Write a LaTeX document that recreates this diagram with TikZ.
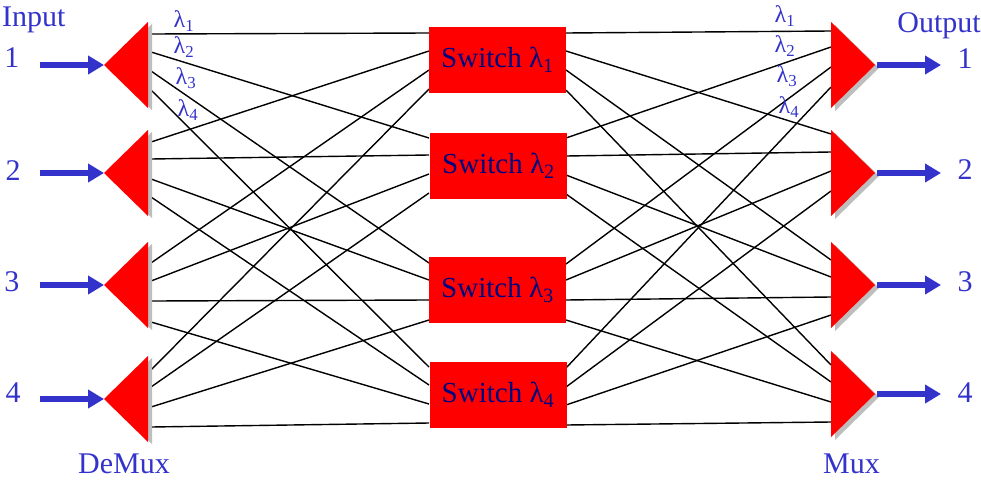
\documentclass[tikz,border=0pt]{standalone}
\usepackage{fontspec}
\setmainfont{Liberation Serif}
\usetikzlibrary{arrows.meta}
\definecolor{tblue}{HTML}{3333CC}
\definecolor{navytext}{HTML}{000080}
\definecolor{shadowgray}{HTML}{BEBEBE}
\begin{document}
\begin{tikzpicture}[x=1pt,y=-1pt,
  wire/.style={black,line width=1.4pt},
  bigarrow/.style={tblue,line width=6pt,-{Triangle[length=16pt,width=18pt]}},
  switchbox/.style={fill=red,minimum width=137pt,minimum height=66pt,inner sep=0pt,
     text=navytext,font=\fontsize{29}{34}\selectfont},
  biglabel/.style={text=tblue,inner sep=0pt,font=\fontsize{30}{36}\selectfont},
  lamlabel/.style={text=tblue,inner sep=0pt,font=\fontsize{24}{28}\selectfont}]
\useasboundingbox (0,0) rectangle (981,479);
\fill[white] (0,0) rectangle (981,479);

% demux ports
\foreach \i/\a/\b/\c/\d in {1/34/52/71/90,2/142/159/179/197,3/263/281/301/322,4/370/387/407/427}{
  \coordinate (d\i-1) at (151,\a);
  \coordinate (d\i-2) at (151,\b);
  \coordinate (d\i-3) at (151,\c);
  \coordinate (d\i-4) at (151,\d);
}
% mux ports
\foreach \i/\a/\b/\c/\d in {1/31/47/67/87,2/134/152/171/191,3/260/277/297/315,4/365/382/402/422}{
  \coordinate (m\i-1) at (831,\a);
  \coordinate (m\i-2) at (831,\b);
  \coordinate (m\i-3) at (831,\c);
  \coordinate (m\i-4) at (831,\d);
}
% switch ports
\foreach \j/\a/\b/\c/\d in {1/33/51/70/89,2/138/155/174/193,3/263/280/300/320,4/367/385/404/423}{
  \coordinate (sl\j-1) at (429,\a);
  \coordinate (sl\j-2) at (429,\b);
  \coordinate (sl\j-3) at (429,\c);
  \coordinate (sl\j-4) at (429,\d);
}
\foreach \j/\a/\b/\c/\d in {1/33/51/70/90,2/138/156/175/194,3/264/280/300/320,4/368/387/405/425}{
  \coordinate (sr\j-1) at (566,\a);
  \coordinate (sr\j-2) at (566,\b);
  \coordinate (sr\j-3) at (566,\c);
  \coordinate (sr\j-4) at (566,\d);
}

% wires
\foreach \i in {1,...,4}{
  \foreach \j in {1,...,4}{
    \draw[wire] (d\i-\j) -- (sl\j-\i);
    \draw[wire] (sr\j-\i) -- (m\i-\j);
  }
}

% switches
\node[switchbox] (s1) at (497.5,60) {Switch λ\textsubscript{1}};
\node[switchbox] (s2) at (498.5,165.5) {Switch λ\textsubscript{2}};
\node[switchbox] (s3) at (497.5,290) {Switch λ\textsubscript{3}};
\node[switchbox] (s4) at (498,395) {Switch λ\textsubscript{4}};

% demux triangles and input arrows
\foreach \i/\c in {1/65,2/173,3/285,4/399}{
  \fill[shadowgray,shift={(4,2)}] (104,\c) -- (148,\c-43) -- (148,\c+43) -- cycle;
  \fill[red] (104,\c) -- (148,\c-43) -- (148,\c+43) -- cycle;
  \coordinate (da\i) at (104,\c);
  \coordinate (ia\i) at (40,\c);
  \draw[bigarrow] (ia\i) -- (da\i);
}
% mux triangles and output arrows
\foreach \i/\c in {1/65,2/173,3/285,4/394}{
  \fill[shadowgray,shift={(4,3)}] (831,\c-43) -- (875,\c) -- (831,\c+43) -- cycle;
  \fill[red] (831,\c-43) -- (875,\c) -- (831,\c+43) -- cycle;
  \coordinate (ma\i) at (877,\c);
  \coordinate (oa\i) at (941,\c);
  \draw[bigarrow] (ma\i) -- (oa\i);
}

% numbers
\node[biglabel] (n1) at (12,58) {1};
\node[biglabel] (n2) at (13,171) {2};
\node[biglabel] (n3) at (12,282) {3};
\node[biglabel] (n4) at (13,393) {4};
\node[biglabel] (o1) at (965,59) {1};
\node[biglabel] (o2) at (965,170) {2};
\node[biglabel] (o3) at (965,282) {3};
\node[biglabel] (o4) at (965,393) {4};

\node[biglabel,anchor=base west] (inp) at (2,26) {Input};
\node[biglabel,anchor=base east] (outp) at (981,32) {Output};
\node[biglabel,anchor=base west] (dmx) at (78,473) {DeMux};
\node[biglabel,anchor=base west] (mx) at (823,473) {Mux};

% wavelength labels
\node[lamlabel] (l1) at (184,21) {λ\textsubscript{1}};
\node[lamlabel] (l2) at (184,47) {λ\textsubscript{2}};
\node[lamlabel] (l3) at (186,78) {λ\textsubscript{3}};
\node[lamlabel] (l4) at (188,110) {λ\textsubscript{4}};
\node[lamlabel] (r1) at (785,16) {λ\textsubscript{1}};
\node[lamlabel] (r2) at (785,46) {λ\textsubscript{2}};
\node[lamlabel] (r3) at (787,76) {λ\textsubscript{3}};
\node[lamlabel] (r4) at (789,107) {λ\textsubscript{4}};
\end{tikzpicture}
\end{document}
